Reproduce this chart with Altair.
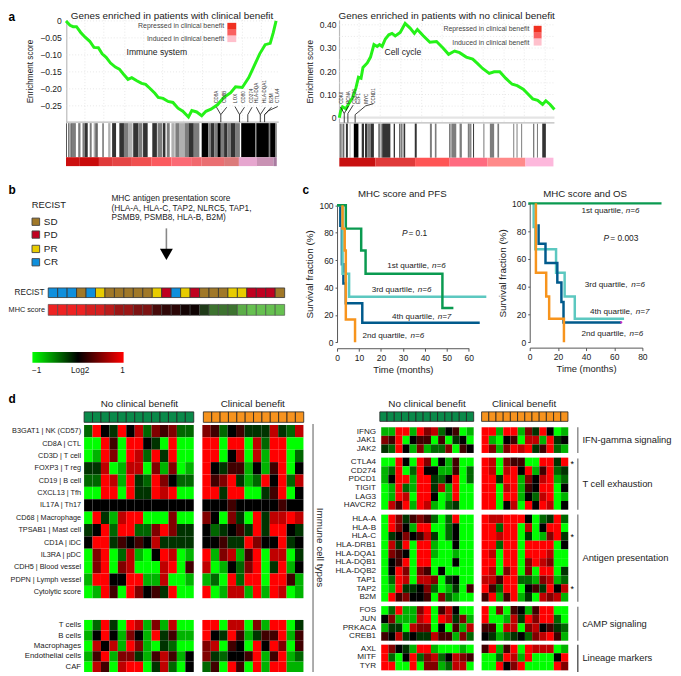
import altair as alt
import pandas as pd

W, H = 673, 668
FONT = "Liberation Sans"
INK = "#222222"

# ---------- panel a ----------
A1_RANK = [0,1.9,3.4,5,7,9.1,11.3,13.3,15.4,17.2,19.1,21.2,23.5,25.4,27.4,29.5,31.3,33.7,36,37.9,40,42.3,43.9,46.2,48.6,50.9,53.3,55.6,58.3,59.9,62.2,64.6,66.6,69,72.1,75.2,78.4,80.7,83.9,87,89.3,92.2,94.8,97.2,98.7,100]
A1_SCORE = [0,-.013,-.017,-.017,-.034,-.048,-.060,-.078,-.079,-.097,-.107,-.124,-.136,-.142,-.157,-.172,-.167,-.176,-.184,-.187,-.199,-.213,-.225,-.228,-.237,-.240,-.257,-.266,-.283,-.264,-.268,-.279,-.266,-.260,-.247,-.225,-.211,-.194,-.196,-.167,-.136,-.097,-.070,-.066,-.034,0]
A2_RANK = [0,.6,1.5,3.1,4.6,6.1,7.7,8.9,10.1,11,13,14.5,16.1,17.6,18.7,19.9,21.4,23,24.5,26,28.3,30.6,32.9,34.9,36.3,39,42.1,45.2,48.2,50.8,53.6,55.9,59,62,64.3,66.6,69.7,72,74.6,77.3,80.4,82.7,85.5,87.6,89.9,92.2,94.5,96,98,100]
A2_SCORE = [0,.028,.047,.038,.064,.085,.127,.174,.170,.216,.236,.261,.315,.307,.315,.307,.339,.357,.363,.352,.367,.406,.386,.363,.380,.353,.325,.328,.300,.273,.287,.280,.261,.252,.233,.212,.191,.198,.198,.170,.144,.138,.123,.103,.081,.075,.057,.073,.057,.035]
A1_BARS = [(21,23,'k'),(26,31,'g'),(34,37,'k'),(37,50,'g'),(57,64,'g'),(70,77,'g'),(77,86,'d'),(92,98,'g'),(104,110,'l'),(110,113,'k'),(113,117,'g'),(130,135,'g'),(148,155,'l'),(160,172,'d'),(182,196,'d'),(196,210,'g'),(210,222,'l'),(224,240,'d'),(240,252,'g'),(254,268,'d'),(282,296,'d'),(298,312,'g'),(314,322,'d'),(326,335,'g'),(340,350,'l'),(352,365,'g'),(365,380,'l'),(380,392,'g'),(392,408,'d'),(408,425,'g'),(432,452,'k'),(452,460,'g'),(460,470,'d'),(470,480,'g'),(480,490,'k'),(490,500,'g'),(500,510,'d'),(510,520,'g'),(520,535,'d'),(535,548,'g'),(552,595,'k'),(595,598,'g'),(598,636,'k'),(636,640,'g'),(640,656,'k'),(656,660,'g')]
A2_BARS = [(41,44,'d'),(46,50,'g'),(52,55,'d'),(60,66,'d'),(72,73,'d'),(84,98,'k'),(108,115,'d'),(118,125,'d'),(125,135,'g'),(135,145,'d'),(158,165,'g'),(168,172,'d'),(172,195,'d'),(205,209,'d'),(222,225,'d'),(226,232,'g'),(235,240,'d'),(269,275,'d'),(315,321,'g'),(330,335,'g'),(373,378,'g'),(380,395,'g'),(405,412,'g'),(430,436,'g'),(437,441,'g'),(446,449,'d'),(478,480,'d'),(497,510,'g'),(520,525,'g'),(568,571,'g'),(578,581,'g'),(592,595,'g'),(628,632,'g'),(640,642,'d'),(656,667,'d')]
TONES = {'k':'#000000','d':'#333333','g':'#7d7d7d','l':'#b0b0b0'}
A1_STRIP = [(20,60,'#cc0f0f'),(60,120,'#c90a0a'),(120,160,'#e03a3a'),(160,220,'#e54545'),(220,280,'#f05050'),(280,340,'#fb5a5f'),(340,400,'#fb6a75'),(400,432,'#f2686e'),(432,500,'#ea6f72'),(500,545,'#dc7a7a'),(545,600,'#e6a6cf'),(600,650,'#c992b4'),(650,660,'#a87ba0')]
A2_STRIP = [(40,150,'#c81010'),(150,270,'#e03a3a'),(270,375,'#ff5555'),(375,490,'#ff6b80'),(490,605,'#ff8a8a'),(605,690,'#fdb8dc')]
A1_GENES = [("CD8A",220),("CD8B",228),("LOX",238.5),("CD80",247),("CD274",254.7),("HLA-DQA",260),("HLA-DQA1",267.7),("B2M",274.7),("CTLA4",281)]
A2_GENES = [("CDK6",345.7),("PCNA",353.3),("CDC20",359.3),("E2F1",363.3),("MYC",371),("CCND1",378)]
A1_LINKS = [[(490,-.298),(490,-.276),(477,-.254)],[(490,-.276),(508,-.254)],[(547,-.298),(547,-.276),(533,-.252)],[(547,-.276),(562,-.254)],[(572,-.298),(572,-.276),(585,-.254)],[(610,-.298),(610,-.276),(598,-.254)],[(610,-.276),(625,-.254)],[(623,-.298),(623,-.276),(644,-.254)],[(623,-.276),(636,-.264),(663,-.252)]]
A2_LINKS = [[(55,-.0213),(55,.018),(43,.047)],[(55,.018),(68,.051)],[(66,-.0213),(66,.018),(82,.054)],[(88,-.0213),(88,.013),(120,.051),(143,.060)]]

# ---------- panel b ----------
RECIST_CODES = ['SD','PD','PR','CR']
RECIST_COLORS = ['#a07828','#c00020','#e8cc00','#0f8fdc']
RECIST = ['CR','CR','CR','SD','CR','PR','SD','SD','SD','SD','SD','PR','PD','CR','PR','PD','SD','SD','SD','PR','PR','PD','PD','PD','SD']
MHC = [1,1,1,1,.9,.9,.78,.65,.65,.52,.52,.3,.2,.18,.08,.06,-.3,-.6,-.6,-.6,-.9,-1,-1,-1,-1]

# ---------- panel c ----------
PFS = {
 'q4': ([0,1.5,1.5,2.2,2.2,2.9,2.9,4,4,11.5,11.5,65],[100,100,85,85,57,57,43,43,28.5,28.5,14.3,14.3]),
 'q3': ([0,2.5,2.5,5.5,5.5,68],[100,100,50,50,33.3,33.3]),
 'q1': ([0,4,4,11,11,13,13,48,48,53],[100,100,83,83,67,67,50,50,25,25]),
 'q2': ([2.5,2.5,3.5,3.5,4,4,8.2,8.2],[100,83,83,67,67,16.7,16.7,0]),
}
OS = {
 'q1': ([-1,93.6],[100,100]),
 'q3': ([2.8,2.8,4,4,18.7,18.7,24.8,24.8,32,32,67],[100,83,83,67,67,50,50,33,33,17,17]),
 'q4': ([6.3,6.3,11.2,11.2,19.6,19.6,22.5,22.5,24,24,65],[85,71,71,57,57,43,43,29,29,14.3,14.3]),
 'q2': ([4.4,4.4,11.7,11.7,13.8,13.8,24.3,24.3],[100,50,50,33,33,17,17,0]),
}
KM_COLORS = {'q1':'#0a9a50','q2':'#f7941d','q3':'#5cc8c0','q4':'#005a8c'}

# ---------- panel d ----------
CODE = {'G':-1,'g':-.7,'d':-.4,'e':-.2,'k':0,'m':.25,'n':.5,'r':.75,'R':1}
IMM_LABELS = ["B3GAT1 | NK (CD57)","CD8A | CTL","CD3D | T cell","FOXP3 | T reg","CD19 | B cell","CXCL13 | Tfh","IL17A | Th17","CD68 | Macrophage","TPSAB1 | Mast cell","CD1A | iDC","IL3RA | pDC","CDH5 | Blood vessel","PDPN | Lymph vessel","Cytolytic score"]
IMM_NCB = ["dRkeRkrdnmndd","GGRmGRRkeGRGG","GgRnGRrdReRGG","eerGgrrGngnGg","ddRrgRedRnkdd","GGRRGReeRrRGG","kkkkkkkkkkkkk","GRegrRRGGGnGG","ekRdRRddnRnee","kRRemkmkreeee","GnRGdrgGkRrGg","GnRGnrGGGrRGm","gRRkkRRggrGGg","GgRmGRnkmeRGG"]
IMM_CB = ["nmdkmeeeredr","RRGRRGrdRRGG","RRGkrGrgRRGd","RkemmgkgmRGk","RmnRegdRkRdr","RReRRGGemRGk","kkkmkkkkkmkk","nkGneGRerrRr","kdekmeReRRke","kkmeeRnkkRek","RgnrgmRGrrGe","rGgkdnRGeRgk","gdGRdRRGRRmg","RGgrrgRgRrGg"]
CELL_LABELS = ["T cells","B cells","Macrophages","Endothelial cells","CAF"]
CELL_NCB = ["GdReGRrgngrGG","gkRkgnkgRemgg","GrkrgRngGedGG","gmRgnnegmrmgk","GrmGrRRGerdGk"]
CELL_CB = ["RRGrrGngRRGe","RkeRmgemmRgm","nrGmkGRkRnGm","nedkkmRgmRgd","dmGRmGRgRRgg"]
IFN_LABELS = ["IFNG","JAK1","JAK2"]
IFN_NCB = ["ggRRgRnrdkmGg","nmRGkmmGmGekG","edRkgngddnGmk"]
IFN_CB = ["RRgRRgneRkGg","RgGkmGrrgRek","RngnRrRemRdg"]
EXH_LABELS = ["CTLA4","CD274","PDCD1","TIGIT","LAG3","HAVCR2"]
EXH_NCB = ["GGRkGRnGkgmGG","gdRGdRkkggmGd","gkRRgRRedkRGd","GgRdgRRergRGG","GgRrGRRkGgRGG","GrmRgRrgGdeGG"]
EXH_CB = ["RrGnmmGGRReR","RrGrRkRgmRde","RReRRgnkrRgd","RRGrRgmkRRGk","RRGRRgkdrRGg","RRGkrGRkRrGk"]
AG_LABELS = ["HLA-A","HLA-B","HLA-C","HLA-DRB1","HLA-DQA1","HLA-DQB1","HLA-DQB2","TAP1","TAP2","B2M"]
AG_NCB = ["GRnemnmdGdRGG","GRnkgRRGGdkGG","GeknkmreGdkGG","GreRGRRgGGkGG","GnmkGRRgGGgGG","GkmRGRRGGGkGG","GkRnGnmGkGGGG","GdRrGrrnGekGG","GgReeknd"+"GgeGm","GRmnkkmGndgGG"]
AG_CB = ["RrrRRRkGdeRd","RRdRRGrGkRRG","RRrRRGeGgnRe","RRdRRGRRRRGk","RrGRRGRRRrGG","RRGRRGnRrnGG","RrGnRGnGRRGe","rrmRRddgnrgd","RmdRRGkmeRkr","mRgmRgeGrnrg"]
CAMP_LABELS = ["FOS","JUN","PRKACA","CREB1"]
CAMP_NCB = ["GdRggnRGmrkGG","kngggrRGRreng","geeGrnnGkGmgr","mkrekeermmgnd"]
CAMP_CB = ["RGnGmkgmRRGG","RGGgreRnRRdG","mmGrrGnrkmed","kegdekdnrRmg"]
LIN_LABELS = ["AXL","MITF","TYR"]
LIN_NCB = ["RnkegRRgGGGgG","RdGkRdnrdkrnm","RRGGRGnngdrrG"]
LIN_CB = ["mRgmRGRrrrGg","GGdRrgRGGGkR","GGRknRGGGGRn"]

L = []

def sc(d, a, b):
    return alt.Scale(domain=d, range=[a - 8, b - 8], nice=False, zero=False)

def T(s, x, y, size=8, align='left', color=INK, angle=0, bold=False, italic=False):
    L.append(alt.Chart(alt.Data(values=[{'t': s}])).mark_text(
        fontSize=size, align=align, baseline='middle', color=color, angle=angle, font=FONT,
        fontWeight='bold' if bold else 'normal', fontStyle='italic' if italic else 'normal'
    ).encode(x=alt.value(x - 8), y=alt.value(y - 8), text='t:N'))

def one():
    return alt.Data(values=[{'k': 0}])

def R(x0, x1, y0, y1, color, stroke=None):
    kw = dict(stroke=stroke, strokeWidth=0.9) if stroke else {}
    L.append(alt.Chart(one()).mark_rect(color=color, **kw).encode(
        x=alt.value(x0 - 8), x2=alt.value(x1 - 8), y=alt.value(y0 - 8), y2=alt.value(y1 - 8)))

def VL(x, y0, y1, color='#666666', w=1.0):
    L.append(alt.Chart(one()).mark_rule(color=color, strokeWidth=w).encode(
        x=alt.value(x - 8), y=alt.value(y0 - 8), y2=alt.value(y1 - 8)))

def HL(y, x0, x1, color='#cccccc', w=1.0):
    L.append(alt.Chart(one()).mark_rule(color=color, strokeWidth=w).encode(
        y=alt.value(y - 8), x=alt.value(x0 - 8), x2=alt.value(x1 - 8)))

def grid_h(vals, scale, x0, x1):
    L.append(alt.Chart(pd.DataFrame({'v': vals})).mark_rule(color='#dddddd', strokeWidth=0.7, strokeDash=[1, 2]).encode(
        y=alt.Y('v:Q', scale=scale, axis=None), x=alt.value(x0 - 8), x2=alt.value(x1 - 8)))

def grid_v(vals, scale, y0, y1):
    L.append(alt.Chart(pd.DataFrame({'v': vals})).mark_rule(color='#dddddd', strokeWidth=0.7, strokeDash=[1, 2]).encode(
        x=alt.X('v:Q', scale=scale, axis=None), y=alt.value(y0 - 8), y2=alt.value(y1 - 8)))

def bars(data, scale, y0, y1, tones=True):
    df = pd.DataFrame(data, columns=['a', 'b', 'c'])
    if tones:
        df['c'] = df['c'].map(TONES)
    L.append(alt.Chart(df).mark_rect().encode(
        x=alt.X('a:Q', scale=scale, axis=None), x2='b:Q',
        y=alt.value(y0 - 8), y2=alt.value(y1 - 8),
        color=alt.Color('c:N', scale=None)))

def links(groups, xs, ys):
    rows = [dict(g=i, o=j, x=p[0], y=p[1]) for i, g in enumerate(groups) for j, p in enumerate(g)]
    L.append(alt.Chart(pd.DataFrame(rows)).mark_line(color='#111111', strokeWidth=0.8).encode(
        x=alt.X('x:Q', scale=xs, axis=None), y=alt.Y('y:Q', scale=ys, axis=None),
        detail='g:N', order='o:Q'))

HEAT = alt.Color('v:Q', scale=alt.Scale(domain=[-1, 0, 1], range=['#00ff00', '#000000', '#ff0000'], interpolate='rgb'), legend=None)

def heat(rows, labels, x0, x1, y0, y1, axis_gap=None, size=8):
    n = len(rows[0])
    for r in rows:
        assert len(r) == n, r
    df = pd.DataFrame([dict(r=labels[i], c=j, v=CODE[ch]) for i, r in enumerate(rows) for j, ch in enumerate(r)])
    ax = None
    if axis_gap is not None:
        ax = alt.Axis(orient='left', offset=-(x0 - 8 - axis_gap), ticks=False, domain=False, title=None,
                      labelFontSize=size, labelFont=FONT, labelColor=INK, labelPadding=0, labelLimit=200, labelOverlap=False)
    L.append(alt.Chart(df).mark_rect().encode(
        x=alt.X('c:O', scale=alt.Scale(range=[x0 - 8, x1 - 8], paddingInner=0, paddingOuter=0), axis=None),
        y=alt.Y('r:N', sort=labels, scale=alt.Scale(range=[y0 - 8, y1 - 8], paddingInner=0, paddingOuter=0), axis=ax),
        color=HEAT))

def strip(n, fill, x0, x1, y0, y1):
    df = pd.DataFrame({'c': list(range(n))})
    L.append(alt.Chart(df).mark_rect(color=fill, stroke='#222222', strokeWidth=0.8).encode(
        x=alt.X('c:O', scale=alt.Scale(range=[x0 - 8, x1 - 8], paddingInner=0, paddingOuter=0), axis=None),
        y=alt.value(y0 - 8), y2=alt.value(y1 - 8)))

# ----- panel a left -----
a1x = sc([0, 100], 66.7, 279.3)
a1y = sc([-0.298, 0.003], 119.5, 16)
a1b = sc([20, 660], 66.7, 280)
grid_h([-.25, -.2, -.15, -.1, -.05, 0], a1y, 67, 282)
grid_v([9, 18, 28, 37, 46, 56, 65, 74, 84, 93], a1x, 16, 119)
HL(119.5, 67, 282, '#bbbbbb', 1.2)
L.append(alt.Chart(pd.DataFrame({'x': A1_RANK, 'y': A1_SCORE, 'i': range(len(A1_RANK))})).mark_line(color='#25f218', strokeWidth=3).encode(
    x=alt.X('x:Q', scale=a1x, axis=None),
    y=alt.Y('y:Q', scale=a1y, axis=alt.Axis(
        orient='left', offset=-59, values=[0, -.05, -.1, -.15, -.2, -.25], grid=False,
        labelExpr="datum.value == 0 ? '0' : format(datum.value, '.2f')",
        domainColor='#bbbbbb', domainWidth=1.2, tickSize=0, labelFontSize=8.7, labelFont=FONT, labelColor=INK,
        labelPadding=5, title='Enrichment score', titleFont=FONT, titleFontSize=8.3, titleFontWeight='normal',
        titleColor=INK, titlePadding=5)),
    order='i:Q'))
bars(A1_BARS, a1b, 120.5, 155)
bars(A1_STRIP, a1b, 155, 164, tones=False)
links(A1_LINKS, a1b, a1y)
for g, x in A1_GENES:
    T(g, x, 100, size=4.6, angle=270, color='#333333')
T("Genes enriched in patients with clinical benefit", 174, 12.5, size=10, align='center')
T("Repressed in clinical benefit", 226.7, 22, size=7, align='right', color='#444444')
T("Induced in clinical benefit", 226.7, 35, size=7, align='right', color='#444444')
R(230, 239, 19, 26, '#f03020'); R(230, 239, 26, 32, '#fa6060'); R(230, 239, 32, 38.5, '#ffc0cc')
T("Immune system", 128, 49, size=8.7)

# ----- panel a right -----
a2x = sc([0, 100], 343.3, 561)
a2y = sc([-0.0213, 0.4213], 120, 16)
a2b = sc([40, 690], 343.3, 560)
grid_h([.05, .1, .15, .2, .25, .3, .35, .4], a2y, 343, 561)
grid_v([9.2, 19, 28.6, 38.3, 47.8, 57.4, 66.9, 76.6, 86, 95.7], a2x, 16, 119)
HL(115, 343, 561, '#e4e4e4', 2.2)
HL(120.3, 343, 561, '#bbbbbb', 1.2)
L.append(alt.Chart(pd.DataFrame({'x': A2_RANK, 'y': A2_SCORE, 'i': range(len(A2_RANK))})).mark_line(color='#25f218', strokeWidth=3).encode(
    x=alt.X('x:Q', scale=a2x, axis=None),
    y=alt.Y('y:Q', scale=a2y, axis=alt.Axis(
        orient='left', offset=-(343 - 8), values=[0, .1, .2, .3, .4], grid=False,
        labelExpr="datum.value == 0 ? '0' : format(datum.value, '.2f')",
        domainColor='#bbbbbb', domainWidth=1.2, tickSize=0, labelFontSize=8.7, labelFont=FONT, labelColor=INK,
        labelPadding=3, title='Enrichment score', titleFont=FONT, titleFontSize=8.3, titleFontWeight='normal',
        titleColor=INK, titlePadding=5)),
    order='i:Q'))
bars(A2_BARS, a2b, 121, 155.5)
bars(A2_STRIP, a2b, 155.5, 164.3, tones=False)
links(A2_LINKS, a2b, a2y)
for g, x in A2_GENES:
    T(g, x, 101, size=4.6, angle=270, color='#333333')
T("Genes enriched in patients with no clinical benefit", 452, 12.5, size=10, align='center')
T("Repressed in clinical benefit", 535.7, 25, size=7, align='right', color='#444444')
T("Induced in clinical benefit", 535.7, 39, size=7, align='right', color='#444444')
R(540, 548, 22, 29, '#f03020'); R(540, 548, 29, 35, '#fa6060'); R(540, 548, 35, 42, '#ffc0cc')
T("Cell cycle", 389, 49, size=8.7)

# ----- panel b -----
T("RECIST", 32, 203, size=9.5)
for code, col, y in zip(RECIST_CODES, RECIST_COLORS, [220.3, 233.3, 247.8, 261.3]):
    R(32.3, 40, y - 3.7, y + 3.7, col, stroke='#444444')
    T(code, 44.3, y, size=10)
T("MHC antigen presentation score", 112.7, 196, size=8.4)
T("(HLA-A, HLA-C, TAP2, NLRC5, TAP1,", 112.7, 206, size=8.4)
T("PSMB9, PSMB8, HLA-B, B2M)", 112.7, 215.7, size=8.4)
VL(168.3, 227, 249, '#888888', 1.6)
L.append(alt.Chart(one()).mark_point(shape='triangle-down', filled=True, color='#000000', size=170, opacity=1).encode(
    x=alt.value(168.3 - 8), y=alt.value(253.4 - 8)))
L.append(alt.Chart(pd.DataFrame({'c': range(25), 's': RECIST})).mark_rect(stroke='#333333', strokeWidth=0.8).encode(
    x=alt.X('c:O', scale=alt.Scale(range=[48.7 - 8, 288 - 8], paddingInner=0, paddingOuter=0), axis=None),
    y=alt.value(287.3 - 8), y2=alt.value(297 - 8),
    color=alt.Color('s:N', scale=alt.Scale(domain=RECIST_CODES, range=RECIST_COLORS), legend=None)))
L.append(alt.Chart(pd.DataFrame({'c': range(25), 'v': MHC})).mark_rect(stroke='#444444', strokeWidth=0.6).encode(
    x=alt.X('c:O', scale=alt.Scale(range=[48.7 - 8, 288 - 8], paddingInner=0, paddingOuter=0), axis=None),
    y=alt.value(304 - 8), y2=alt.value(315 - 8),
    color=alt.Color('v:Q', scale=alt.Scale(domain=[-1, 0, 1], range=['#66c050', '#000000', '#ee2222'], interpolate='rgb'), legend=None)))
T("RECIST", 45, 292, size=8.3, align='right')
T("MHC score", 45.5, 309.5, size=7.4, align='right')
L.append(alt.Chart(one()).mark_rect(color=alt.Gradient(
    gradient='linear', x1=0, x2=1, y1=0, y2=0,
    stops=[alt.GradientStop(color='#00ff00', offset=0), alt.GradientStop(color='#000000', offset=.5), alt.GradientStop(color='#ff0000', offset=1)]
)).encode(x=alt.value(32.7 - 8), x2=alt.value(125 - 8), y=alt.value(352 - 8), y2=alt.value(363 - 8)))
T("\u22121", 37, 371, size=8.3, align='center')
T("Log2", 81, 371, size=8.3, align='center')
T("1", 124, 371, size=8.3, align='center')

# ----- panel c -----
def km(curves, xs, ys, xticks, order, ax_y, ax_x):
    first = True
    for key in order:
        xv, yv = curves[key]
        df = pd.DataFrame({'x': xv, 'y': yv, 'i': range(len(xv))})
        xa = yaxis = None
        if first:
            xa = alt.Axis(orient='bottom', offset=-(H - (ax_y - 8)), values=xticks, grid=False, domainColor='#555555',
                          tickColor='#555555', tickSize=3, labelFontSize=8.6, labelFont=FONT, labelColor=INK, labelPadding=2,
                          labelFlush=False, title='Time (months)', titleFont=FONT, titleFontSize=9.5, titleFontWeight='normal',
                          titleColor=INK, titlePadding=3, format='d')
            yaxis = alt.Axis(orient='left', offset=-(ax_x - 8), values=[0, 20, 40, 60, 80, 100], grid=False, domainColor='#555555',
                             tickColor='#555555', tickSize=2, labelFontSize=8.6, labelFont=FONT, labelColor=INK, labelPadding=2,
                             title='Survival fraction (%)', titleFont=FONT, titleFontSize=10, titleFontWeight='normal',
                             titleColor=INK, titlePadding=4)
            first = False
        L.append(alt.Chart(df).mark_line(color=KM_COLORS[key], strokeWidth=2.5, strokeJoin='miter').encode(
            x=alt.X('x:Q', scale=xs, axis=xa), y=alt.Y('y:Q', scale=ys, axis=yaxis), order='i:Q'))

km(PFS, sc([0, 60], 341, 474.3), sc([0, 100], 342.3, 203.7), [0, 10, 20, 30, 40, 50, 60], ['q4', 'q3', 'q1', 'q2'], 348.3, 341)
km(OS, sc([0, 80], 536, 650), sc([0, 100], 342.3, 201.7), [0, 20, 40, 60, 80], ['q3', 'q4', 'q1', 'q2'], 347.7, 536)
L.append(alt.Chart(pd.DataFrame({'x': [65], 'y': [14.3]})).mark_point(color='#d020d0', filled=True, size=5, opacity=1).encode(
    x=alt.X('x:Q', scale=sc([0, 80], 536, 650), axis=None), y=alt.Y('y:Q', scale=sc([0, 100], 342.3, 201.7), axis=None)))
T("MHC score and PFS", 407, 192, size=9.8, align='center')
T("MHC score and OS", 592, 192, size=9.8, align='center')

def qlab(s, n, x0, x1, y):
    T(s + ",", x0, y, size=8.2)
    T("n=" + n, x1, y, size=8.2, align='right', italic=True)

qlab("1st quartile", "6", 391.7, 451, 265)
qlab("3rd quartile", "6", 376, 436.7, 289.3)
qlab("4th quartile", "7", 396.7, 456.7, 316.3)
qlab("2nd quartile", "6", 366.7, 429.3, 336.3)
qlab("1st quartile", "6", 588.3, 647, 209.3)
qlab("3rd quartile", "6", 591.7, 652.7, 284)
qlab("4th quartile", "7", 597, 657.3, 312)
qlab("2nd quartile", "6", 588.3, 651, 333.7)
T("P", 406.7, 231.7, size=8.5, italic=True); T("= 0.1", 432.3, 231.7, size=8.5, align='right')
T("P", 610.7, 236.3, size=8.5, italic=True); T("= 0.003", 646, 236.3, size=8.5, align='right')

# ----- panel labels -----
T("a", 8.5, 13, size=12, bold=True, color='#000000')
T("b", 8.5, 188, size=12, bold=True, color='#000000')
T("c", 306, 188, size=12, bold=True, color='#000000')
T("d", 8.5, 400, size=12, bold=True, color='#000000')

# ----- panel d left -----
T("No clinical benefit", 141, 405, size=10, align='center')
T("Clinical benefit", 255.7, 405, size=10, align='center')
strip(13, '#0a8a4a', 85, 196, 412.7, 423.3)
strip(12, '#f7931e', 205.7, 307.3, 412.7, 423.3)
heat(IMM_NCB, IMM_LABELS, 85, 196, 426, 601.3, axis_gap=3.5, size=7.4)
heat(IMM_CB, IMM_LABELS, 204.7, 307, 426, 601.3)
heat(CELL_NCB, CELL_LABELS, 85, 196, 623.3, 676, axis_gap=3.5, size=7.9)
heat(CELL_CB, CELL_LABELS, 204.7, 307, 623.3, 676)
VL(316.7, 425, 676, '#888888', 1.4)
T("Immune cell types", 324, 550, size=10, angle=90, align='center')

# ----- panel d right -----
T("No clinical benefit", 432, 405, size=10, align='center')
T("Clinical benefit", 530.3, 405, size=10, align='center')
strip(13, '#0a8a4a', 384.3, 479.3, 412.7, 422.3)
strip(12, '#f7931e', 487.3, 574.7, 412.7, 422.3)
BL, BR = (385.7, 479.3), (487.3, 575)
for n_, c_, lab, y0, y1 in [(IFN_NCB, IFN_CB, IFN_LABELS, 428.3, 454.3),
                            (EXH_NCB, EXH_CB, EXH_LABELS, 459, 511.7),
                            (AG_NCB, AG_CB, AG_LABELS, 516.7, 604.7),
                            (CAMP_NCB, CAMP_CB, CAMP_LABELS, 609.3, 644.3),
                            (LIN_NCB, LIN_CB, LIN_LABELS, 648.3, 674.3)]:
    heat(n_, lab, BL[0], BL[1], y0, y1, axis_gap=5.7, size=8.2)
    heat(c_, lab, BR[0], BR[1], y0, y1)
for y0, y1, c in [(428.3, 454.3, '#666666'), (460, 511.7, '#666666'), (516.7, 605, '#666666'), (610, 644.3, '#666666'), (648.3, 676, '#222222')]:
    VL(584.7, y0, y1, c, 1.1)
for s, y in [("IFN-gamma signaling", 441.3), ("T cell exhaustion", 486), ("Antigen presentation", 561), ("cAMP signaling", 627.7), ("Lineage markers", 661.7)]:
    T(s, 589.3, y, size=9.5)
for y in [465, 539.3, 592.3]:
    T("*", 579, y, size=9, align='center', color='#000000')

chart = alt.layer(*L).resolve_scale(x='independent', y='independent', color='independent').properties(
    width=W, height=H, padding=0, autosize=alt.AutoSizeParams(type='none'),
    background='white'
).configure_view(stroke=None)

chart.save("out.html", embed_options={"renderer": "svg", "actions": False})
